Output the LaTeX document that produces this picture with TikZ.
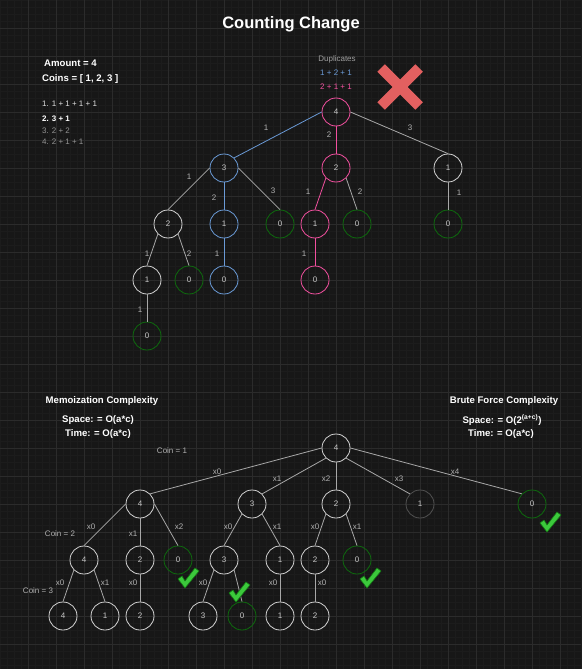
\documentclass[tikz,border=0pt]{standalone}
\usepackage{fontspec}
\setmainfont{Liberation Sans}
\definecolor{bgc}{HTML}{171717}
\definecolor{minorc}{HTML}{1C1C1C}
\definecolor{majorc}{HTML}{2B2B2B}
\definecolor{wcol}{HTML}{D2D2D2}
\definecolor{gcol}{HTML}{0D6A0D}
\definecolor{bcol}{HTML}{6A9AD6}
\definecolor{pcol}{HTML}{F2509F}
\definecolor{dcol}{HTML}{505050}
\definecolor{ecol}{HTML}{A8A8A8}
\definecolor{ntext}{HTML}{C8C8C8}
\definecolor{ltext}{HTML}{B0B0B0}
\definecolor{xred}{HTML}{E36060}
\definecolor{chkf}{HTML}{3CC93C}
\definecolor{chkd}{HTML}{147A14}
\tikzset{
 nd/.style={circle, draw=wcol, minimum size=28pt, inner sep=0pt, line width=0.8pt, text=ntext, font=\fontsize{8}{9}\selectfont},
 gn/.style={nd, draw=gcol},
 bn/.style={nd, draw=bcol},
 pn/.style={nd, draw=pcol},
 dn/.style={nd, draw=dcol},
 ed/.style={draw=ecol, line width=0.8pt},
 be/.style={draw=bcol, line width=0.8pt},
 pe/.style={draw=pcol, line width=0.8pt},
 lbl/.style={text=ltext, font=\fontsize{8}{9}\selectfont, inner sep=0pt},
 hd/.style={text=white, font=\fontsize{9.6}{11}\selectfont\bfseries, inner sep=0pt},
 chk/.pic={\filldraw[fill=chkf, draw=chkd, line width=0.6pt, line join=round]
   (-10,1) -- (-6,-2) -- (-3,3) -- (7,-10) -- (11,-7) -- (-3,10) -- cycle;}
}
\begin{document}
\begin{tikzpicture}[x=1pt,y=-1pt]
\useasboundingbox (0,0) rectangle (581,669);
\fill[bgc] (0,0) rectangle (581,669);
\foreach \i in {0,...,83} \draw[minorc, line width=0.5pt] (\i*7,0) -- (\i*7,669);
\foreach \i in {0,...,95} \draw[minorc, line width=0.5pt] (0,\i*7) -- (581,\i*7);
\foreach \i in {1,...,20} \draw[majorc, line width=0.8pt] (\i*28,0) -- (\i*28,669);
\foreach \i in {1,...,23} \draw[majorc, line width=0.8pt] (0,\i*28) -- (581,\i*28);

% title
\node[text=white, font=\fontsize{16.5}{18}\selectfont\bfseries, inner sep=0pt] (title) at (291,24) {Counting Change};

% left info
\node[hd, anchor=west] (amount) at (44,63) {Amount = 4};
\node[hd, anchor=west] (coins) at (42,79) {Coins = [ 1, 2, 3 ]};
\node[lbl, text=white!88!black, anchor=west] (s1) at (42,104) {1. 1 + 1 + 1 + 1};
\node[lbl, text=white, font=\fontsize{8}{9}\selectfont\bfseries, anchor=west] (s2) at (42,119) {2. 3 + 1};
\node[lbl, text=white!58!black, anchor=west] (s3) at (42,131) {3. 2 + 2};
\node[lbl, text=white!58!black, anchor=west] (s4) at (42,142) {4. 2 + 1 + 1};

% duplicates
\node[lbl, text=white!62!black] (dup) at (337,59) {Duplicates};
\node[lbl, text=bcol] (dup1) at (336,73) {1 + 2 + 1};
\node[lbl, text=pcol] (dup2) at (336,87) {2 + 1 + 1};
\draw[xred, line width=10.6pt, line cap=butt] (381,68) -- (419,106) (419,68) -- (381,106);

% top tree
\node[pn] (R) at (336,112) {4};
\node[bn] (A3) at (224,168) {3};
\node[pn] (A2) at (336,168) {2};
\node[nd] (A1) at (448,168) {1};
\node[nd] (B2) at (168,224) {2};
\node[bn] (B1) at (224,224) {1};
\node[gn] (B0) at (280,224) {0};
\node[pn] (B1p) at (315,224) {1};
\node[gn] (B0b) at (357,224) {0};
\node[gn] (B0c) at (448,224) {0};
\node[nd] (C1) at (147,280) {1};
\node[gn] (C0) at (189,280) {0};
\node[bn] (C0b) at (224,280) {0};
\node[pn] (C0p) at (315,280) {0};
\node[gn] (D0) at (147,336) {0};

\draw[be] (R.west) -- (A3.north east);
\draw[pe] (R.south) -- (A2.north);
\draw[ed] (R.east) -- (A1.north);
\draw[ed] (A3.west) -- (B2.north);
\draw[be] (A3.south) -- (B1.north);
\draw[ed] (A3.east) -- (B0.north);
\draw[pe] (A2.south west) -- (B1p.north);
\draw[ed] (A2.south east) -- (B0b.north);
\draw[ed] (A1.south) -- (B0c.north);
\draw[ed] (B2.south west) -- (C1.north);
\draw[ed] (B2.south east) -- (C0.north);
\draw[be] (B1.south) -- (C0b.north);
\draw[pe] (B1p.south) -- (C0p.north);
\draw[ed] (C1.south) -- (D0.north);

\node[lbl] (t1) at (266,128) {1};
\node[lbl] (t2) at (329,135) {2};
\node[lbl] (t3) at (410,128) {3};
\node[lbl] (t4) at (189,177) {1};
\node[lbl] (t5) at (214,198) {2};
\node[lbl] (t6) at (273,191) {3};
\node[lbl] (t7) at (308,192) {1};
\node[lbl] (t8) at (360,192) {2};
\node[lbl] (t9) at (459,193) {1};
\node[lbl] (t10) at (147,254) {1};
\node[lbl] (t11) at (189,254) {2};
\node[lbl] (t12) at (217,254) {1};
\node[lbl] (t13) at (304,254) {1};
\node[lbl] (t14) at (140,310) {1};

% complexity texts
\node[hd] (memo) at (102,401) {Memoization Complexity};
\node[hd] (ms) at (98,420) {Space: = O(a*c)};
\node[hd] (mt) at (98,434) {Time: = O(a*c)};
\node[hd] (brute) at (504,401) {Brute Force Complexity};
\node[hd] (bs) at (502,420) {Space: = O(2\textsuperscript{(a+c)})};
\node[hd] (bt) at (501,434) {Time: = O(a*c)};

% bottom tree
\node[nd] (R2) at (336,448) {4};
\node[nd] (L4) at (140,504) {4};
\node[nd] (L3) at (252,504) {3};
\node[nd] (L2) at (336,504) {2};
\node[dn] (L1) at (420,504) {1};
\node[gn] (L0) at (532,504) {0};
\node[nd] (M4) at (84,560) {4};
\node[nd] (M2) at (140,560) {2};
\node[gn] (M0) at (178,560) {0};
\node[nd] (M3) at (224,560) {3};
\node[nd] (M1) at (280,560) {1};
\node[nd] (M2b) at (315,560) {2};
\node[gn] (M0b) at (357,560) {0};
\node[nd] (N4) at (63,616) {4};
\node[nd] (N1) at (105,616) {1};
\node[nd] (N2) at (140,616) {2};
\node[nd] (N3) at (203,616) {3};
\node[gn] (N0) at (242,616) {0};
\node[nd] (N1b) at (280,616) {1};
\node[nd] (N2b) at (315,616) {2};

\draw[ed] (R2.west) -- (L4.north east);
\draw[ed] (R2.south west) -- (L3.north east);
\draw[ed] (R2.south) -- (L2.north);
\draw[ed] (R2.south east) -- (L1.north west);
\draw[ed] (R2.east) -- (L0.north west);
\draw[ed] (L4.west) -- (M4.north);
\draw[ed] (L4.south) -- (M2.north);
\draw[ed] (L4.east) -- (M0.north);
\draw[ed] (L3.south west) -- (M3.north);
\draw[ed] (L3.south east) -- (M1.north);
\draw[ed] (L2.south west) -- (M2b.north);
\draw[ed] (L2.south east) -- (M0b.north);
\draw[ed] (M4.south west) -- (N4.north);
\draw[ed] (M4.south east) -- (N1.north);
\draw[ed] (M2.south) -- (N2.north);
\draw[ed] (M3.south west) -- (N3.north);
\draw[ed] (M3.south east) -- (N0.north);
\draw[ed] (M1.south) -- (N1b.north);
\draw[ed] (M2b.south) -- (N2b.north);

\node[lbl] (c1) at (172,451) {Coin = 1};
\node[lbl] (c2) at (60,534) {Coin = 2};
\node[lbl] (c3) at (38,591) {Coin = 3};
\node[lbl] (b1) at (217,472) {x0};
\node[lbl] (b2) at (277,479) {x1};
\node[lbl] (b3) at (326,479) {x2};
\node[lbl] (b4) at (399,479) {x3};
\node[lbl] (b5) at (455,472) {x4};
\node[lbl] (b6) at (91,527) {x0};
\node[lbl] (b7) at (133,534) {x1};
\node[lbl] (b8) at (179,527) {x2};
\node[lbl] (b9) at (228,527) {x0};
\node[lbl] (b10) at (277,527) {x1};
\node[lbl] (b11) at (315,527) {x0};
\node[lbl] (b12) at (357,527) {x1};
\node[lbl] (b13) at (60,583) {x0};
\node[lbl] (b14) at (105,583) {x1};
\node[lbl] (b15) at (133,583) {x0};
\node[lbl] (b16) at (203,583) {x0};
\node[lbl] (b17) at (273,583) {x0};
\node[lbl] (b18) at (322,583) {x0};

% check marks
\pic at (188,578) {chk};
\pic at (239,592) {chk};
\pic at (370,578) {chk};
\pic at (550,522) {chk};
\end{tikzpicture}
\end{document}
